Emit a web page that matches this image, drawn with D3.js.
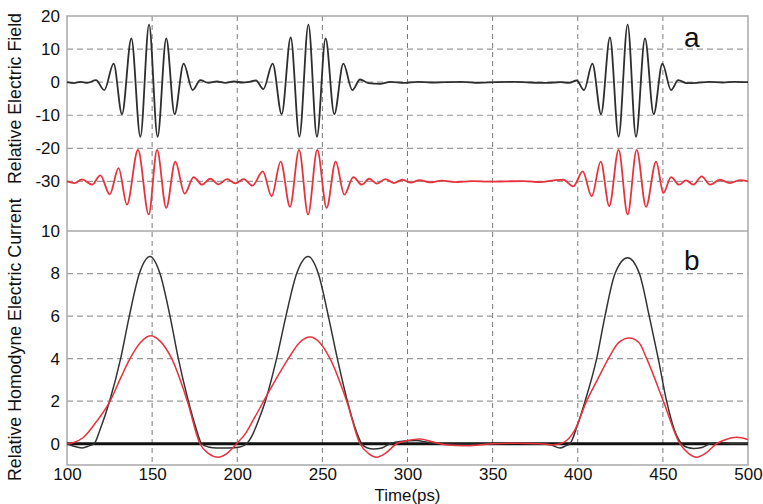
<!DOCTYPE html>
<html>
<head>
<meta charset="utf-8">
<script src="https://cdn.jsdelivr.net/npm/d3@7"></script>
<style>
  html, body { margin: 0; padding: 0; background: #fff; }
  svg { display: block; font-family: "Liberation Sans", Arial, Helvetica, sans-serif; }
</style>
</head>
<body>
<svg id="chart" width="763" height="504"></svg>
<script>
// Time axis
const timeTicks = [100, 150, 200, 250, 300, 350, 400, 450, 500];
const fieldTicks = [20, 10, 0, -10, -20, -30];
const currentTicks = [10, 8, 6, 4, 2, 0];

// (a) relative electric field, black trace (extrema of the wave packets)
const fieldBlackT = [100, 104, 108, 112, 117, 121.9, 127.4, 132.3, 137.8, 143.1, 148.2, 153.2, 158.3, 163.2, 168.5, 173.8, 178.3, 183, 188, 193, 198, 203, 207, 211,
  215.3, 220.8, 226.1, 231.4, 236.5, 241.8, 246.8, 251.9, 257, 262.3, 267.6, 272.1, 277, 283.8, 290, 298, 306, 314, 322, 332, 342, 352, 362, 372, 382, 390, 395, 399.4,
  403.7, 408.6, 413.7, 418.9, 424, 429.3, 434.2, 439.5, 444.6, 449.7, 454.8, 459, 464, 470, 477, 485, 492, 500];
const fieldBlackV = [0, -0.3, 0.1, -0.2, 0.6, -2.4, 5.6, -9.7, 13.2, -16.5, 17.4, -16.5, 13.2, -9.7, 5.6, -2.4, 0.6, -0.2, 0.2, -0.2, 0.2, -0.1, 0.1, 0.5,
  -2.1, 5.6, -9.7, 13.5, -16.5, 17.4, -16.5, 13.2, -9.7, 5.6, -2.4, 0.8, -0.3, -0.5, 0.1, -0.2, 0.1, -0.1, 0, 0.1, -0.2, 0, 0.1, -0.1, -0.2, 0, -0.2, 0.5,
  -2.4, 5.6, -9.7, 13.5, -16.5, 17.4, -16.5, 13.2, -9.7, 5.6, -2.4, 0.6, -0.3, -0.2, 0.1, -0.1, 0.1, 0];

// (a) relative electric current, red trace (offset to -30)
const fieldRedT = [100, 104.5, 108.8, 114.7, 119.6, 125.1, 130.3, 135.2, 141.7, 148, 152.9, 158.3, 163.6, 169.1, 174.4, 179.3, 184.2, 189.1, 194, 198.9, 203.8, 208.9,
  215, 220.2, 225.5, 231, 236.3, 241.6, 247, 252.5, 257.8, 262.9, 268.2, 273.1, 277.5, 282, 287, 292, 297, 302, 307, 313, 320, 328, 338, 348, 358, 368, 378, 386, 391.5,
  397.4, 402.9, 408.2, 413.5, 418.5, 424, 429.3, 434.6, 440.1, 446, 450.3, 454.8, 459.5, 463.6, 467.9, 472.8, 477.7, 483.5, 489.4, 495.3, 500];
const fieldRedV = [-30, -30.5, -29.4, -31.0, -28.2, -33.9, -26.0, -37.0, -20.5, -40.0, -20.5, -38.0, -24.0, -33.7, -28.7, -31.0, -29.2, -30.9, -29.3, -30.6, -29.3, -31.3,
  -27.0, -34.5, -24.0, -37.7, -20.5, -40.0, -20.5, -38.0, -24.0, -34.0, -28.7, -31.0, -29.2, -30.7, -29.3, -30.5, -29.5, -30.4, -29.6, -30.3, -29.8, -30.2, -29.9, -30.1, -30, -29.9, -30.2, -29.7, -29.5,
  -31.5, -27.0, -34.5, -24.0, -37.5, -20.5, -40.0, -20.5, -37.7, -24.0, -33.5, -28.7, -31.0, -29.7, -31.0, -28.5, -31.0, -29.5, -30.5, -29.6, -30];

// (b) relative homodyne electric current, black trace
const homBlackT = [100, 104, 109, 113, 116, 119.4, 125, 131.5, 136.6, 142.5, 148.8, 154.6, 160.5, 165.4, 171.3, 175.5, 179.1, 183, 188, 195, 201.6, 205.5, 208.5, 212, 216.5,
  223.1, 228.6, 234.9, 241.7, 247.6, 253.5, 258.8, 264.7, 269, 273.1, 276.5, 280, 285, 289.7, 297, 305, 313, 320, 335, 350, 365, 377, 384, 389.6, 393, 395.5, 399.5, 404.3,
  411.1, 416, 421.9, 429.3, 436.2, 442, 447.3, 452.2, 457, 461, 464.5, 468, 473, 477.7, 485, 492, 500];
const homBlackV = [0, -0.12, -0.2, -0.1, 0, 0.66, 2, 4, 6, 8, 8.8, 8, 6, 4, 2, 0.8, 0, -0.15, -0.2, -0.2, -0.15, 0, 0.35, 1.0, 2,
  4, 6, 8, 8.8, 8, 6, 4, 2, 0.8, 0, -0.2, -0.25, -0.2, 0, 0.12, 0.15, 0.05, 0, -0.03, 0, 0.02, 0, -0.05, -0.2, -0.1, 0, 0.8, 2,
  4, 6, 8, 8.74, 8, 6, 4, 2, 0.6, 0, -0.18, -0.22, -0.18, 0, 0.05, 0, 0];

// (b) relative homodyne electric current, red trace
const homRedT = [100, 104, 109.4, 117.4, 125.3, 131, 137, 143, 149.1, 155, 161.5, 170.7, 178.1, 183, 188.9, 194, 199.6, 205, 210, 215.5, 222.5, 230, 236.5, 242.7,
  248.5, 254.5, 264.3, 272.1, 277, 281.9, 287, 293.6, 300, 307.3, 314, 322, 334.8, 350, 365, 378, 386, 391.5, 398, 405.2, 411.5, 418, 424, 430.3, 436, 440.5, 450.3,
  460, 465, 469.9, 475, 481.6, 487, 493.4, 500];
const homRedV = [0, 0.06, 0.28, 1.05, 2, 3, 4, 4.75, 5.08, 4.8, 4, 2, 0, -0.45, -0.63, -0.45, 0, 0.5, 1.2, 2, 3, 4, 4.75, 5.02,
  4.75, 4, 2, 0, -0.45, -0.63, -0.45, 0, 0.15, 0.22, 0.1, -0.05, -0.1, 0, 0.02, 0, -0.05, 0.05, 0.6, 2, 3, 4, 4.75, 4.97, 4.75, 4, 2,
  0, -0.45, -0.63, -0.45, 0, 0.2, 0.3, 0.2];

const svg = d3.select("#chart");
const plotLeft = 67, plotRight = 748, plotTop = 16, plotMid = 231, plotBottom = 465;

const x = d3.scaleLinear().domain([100, 500]).range([plotLeft, plotRight]);
const yA = d3.scaleLinear().domain([-45, 20]).range([plotMid, plotTop]);
const yB = d3.scaleLinear().domain([-1, 10]).range([plotBottom, plotMid]);

// gridlines
const grid = svg.append("g");
grid.selectAll(".vg").data(timeTicks.slice(1, -1)).join("line")
  .attr("x1", d => x(d)).attr("x2", d => x(d)).attr("y1", plotTop).attr("y2", plotBottom)
  .attr("stroke", "#7a7a7a").attr("stroke-width", 1).attr("stroke-dasharray", "5,4");
grid.selectAll(".hga").data(fieldTicks.slice(1)).join("line")
  .attr("x1", plotLeft).attr("x2", plotRight).attr("y1", d => yA(d)).attr("y2", d => yA(d))
  .attr("stroke", "#9a9a9a").attr("stroke-width", 1.2).attr("stroke-dasharray", "6,4");
grid.selectAll(".hgb").data(currentTicks.slice(1, -1)).join("line")
  .attr("x1", plotLeft).attr("x2", plotRight).attr("y1", d => yB(d)).attr("y2", d => yB(d))
  .attr("stroke", "#9a9a9a").attr("stroke-width", 1.2).attr("stroke-dasharray", "6,4");

// frame and panel separator
svg.append("rect").attr("x", plotLeft).attr("y", plotTop).attr("width", plotRight - plotLeft).attr("height", plotBottom - plotTop)
  .attr("fill", "none").attr("stroke", "#a8a8a8").attr("stroke-width", 1.5);
svg.append("line").attr("x1", plotLeft).attr("x2", plotRight).attr("y1", yB(10)).attr("y2", yB(10))
  .attr("stroke", "#a8a8a8").attr("stroke-width", 1.5);

// zero line of panel b
svg.append("line").attr("x1", plotLeft).attr("x2", plotRight).attr("y1", yB(0)).attr("y2", yB(0))
  .attr("stroke", "#111").attr("stroke-width", 3);

function trace(ts, vs, y, color, w) {
  const pts = ts.map((t, i) => [t, vs[i]]);
  svg.append("path").datum(pts)
    .attr("fill", "none").attr("stroke", color).attr("stroke-width", w)
    .attr("stroke-linejoin", "round")
    .attr("d", d3.line().x(d => x(d[0])).y(d => y(d[1])).curve(d3.curveMonotoneX));
}
trace(homBlackT, homBlackV, yB, "#333", 1.5);
trace(homRedT, homRedV, yB, "#e8323c", 1.5);
trace(fieldBlackT, fieldBlackV, yA, "#2e2e2e", 1.8);
trace(fieldRedT, fieldRedV, yA, "#e8323c", 1.8);

// axes
const fmt = d => String(d);
const axA = svg.append("g").attr("transform", `translate(${plotLeft},0)`)
  .call(d3.axisLeft(yA).tickValues(fieldTicks).tickSize(0).tickPadding(7).tickFormat(fmt));
const axB = svg.append("g").attr("transform", `translate(${plotLeft},0)`)
  .call(d3.axisLeft(yB).tickValues(currentTicks).tickSize(0).tickPadding(7).tickFormat(fmt));
const axX = svg.append("g").attr("transform", `translate(0,${plotBottom})`)
  .call(d3.axisBottom(x).tickValues(timeTicks).tickSize(0).tickPadding(3).tickFormat(fmt));
[axA, axB, axX].forEach(g => {
  g.select(".domain").remove();
  g.selectAll("text").attr("font-size", 17).attr("fill", "#111")
    .attr("font-family", "Liberation Sans, Arial, sans-serif");
});

// axis titles
svg.append("text").attr("x", x(300)).attr("y", 501).attr("text-anchor", "middle")
  .attr("font-size", 16).attr("fill", "#111")
  .attr("textLength", 66).attr("lengthAdjust", "spacingAndGlyphs").text("Time(ps)");
svg.append("text").attr("transform", "translate(21,481) rotate(-90)")
  .attr("text-anchor", "start").attr("font-size", 17.8).attr("fill", "#111")
  .text("Relative Homodyne Electric Current");
svg.append("text").attr("transform", "translate(21,13) rotate(-90)")
  .attr("text-anchor", "end").attr("font-size", 17.8).attr("fill", "#111")
  .text("Relative Electric Field");

// panel letters
svg.append("text").attr("x", 684).attr("y", 47).attr("font-size", 28).attr("fill", "#111").text("a");
svg.append("text").attr("x", 684).attr("y", 270).attr("font-size", 28).attr("fill", "#111").text("b");
</script>
</body>
</html>
